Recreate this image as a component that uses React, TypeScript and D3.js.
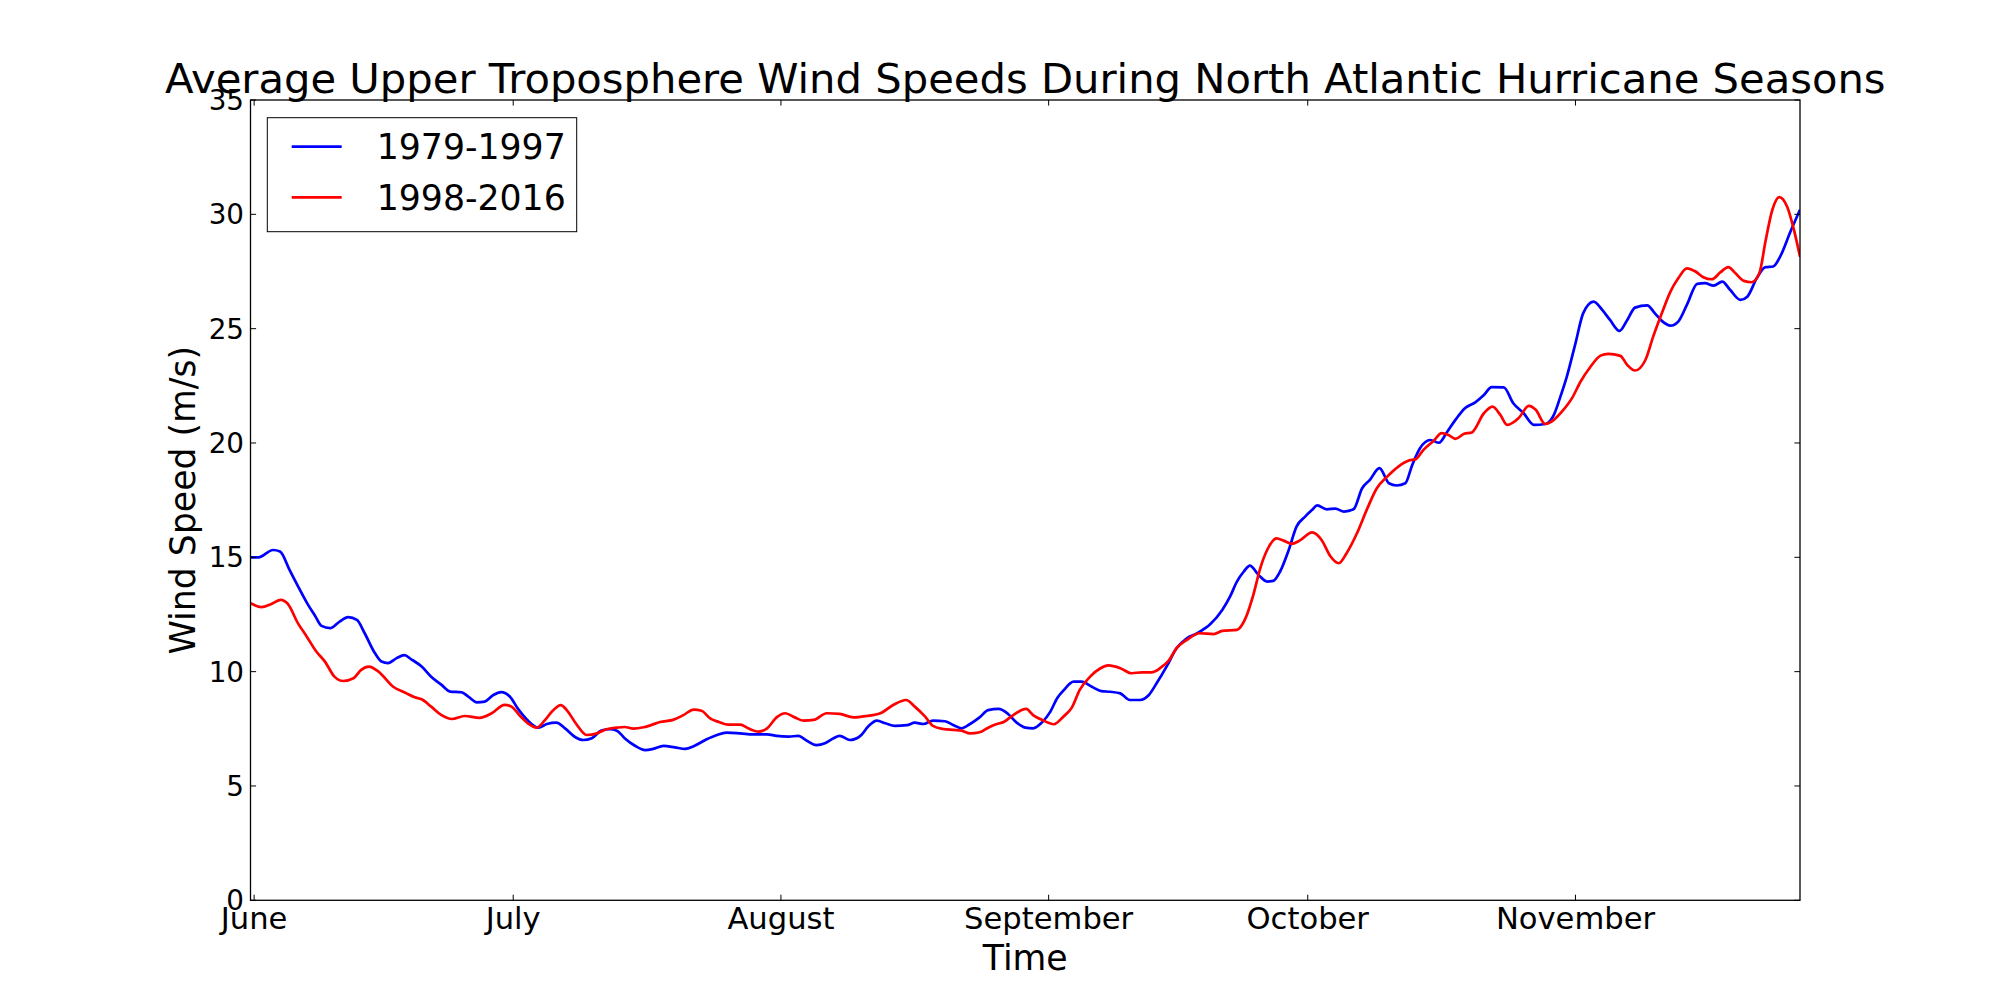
import { useMemo } from 'react';
import * as d3 from 'd3';

// Day offsets from June 1, smoothed wind speed (m/s)
const early: [number, number][] = [
  [-0.4, 15.0], [0.5, 15.0], [2.2, 15.32], [3.0, 15.25], [4.1, 14.45], [5.1, 13.72], [6.25, 12.92], [7.0, 12.48],
  [7.8, 12.0], [8.8, 11.9], [9.9, 12.19], [10.9, 12.38], [11.9, 12.26], [12.8, 11.68], [14.0, 10.8], [14.75, 10.44],
  [15.5, 10.37], [16.5, 10.59], [17.4, 10.72], [18.2, 10.54], [19.4, 10.22], [20.5, 9.78], [21.7, 9.42], [22.7, 9.13],
  [24.0, 9.1], [24.8, 8.91], [25.8, 8.66], [26.7, 8.69], [27.7, 8.98], [28.6, 9.1], [29.6, 8.91], [30.6, 8.35],
  [31.6, 7.9], [32.9, 7.55], [33.9, 7.71], [35.0, 7.77], [36.0, 7.52], [37.2, 7.13], [38.1, 7.01], [39.1, 7.09],
  [40.2, 7.42], [41.2, 7.48], [42.0, 7.42], [42.9, 7.09], [44.1, 6.76], [45.3, 6.57], [46.2, 6.62], [47.4, 6.75],
  [48.7, 6.69], [49.9, 6.62], [51.0, 6.76], [52.4, 7.04], [53.6, 7.23], [54.7, 7.33], [56.3, 7.3], [57.8, 7.26],
  [59.4, 7.26], [60.5, 7.19], [61.9, 7.16], [63.0, 7.19], [64.0, 6.98], [65.1, 6.79], [66.1, 6.87], [67.1, 7.09],
  [67.8, 7.19], [69.0, 7.01], [70.2, 7.19], [71.1, 7.6], [72.1, 7.86], [73.1, 7.74], [74.2, 7.63], [75.6, 7.66],
  [76.5, 7.77], [77.5, 7.71], [78.6, 7.86], [80.0, 7.83], [81.0, 7.66], [81.9, 7.52], [82.9, 7.71], [84.0, 8.0],
  [85.0, 8.32], [86.2, 8.37], [87.3, 8.15], [88.3, 7.77], [89.3, 7.55], [90.2, 7.52], [91.2, 7.77], [92.2, 8.25],
  [93.0, 8.85], [93.7, 9.17], [94.9, 9.56], [95.8, 9.56], [97.0, 9.34], [98.1, 9.15], [99.1, 9.12], [100.3, 9.05],
  [101.4, 8.76], [102.6, 8.76], [103.6, 8.98], [104.5, 9.49], [105.7, 10.25], [106.8, 11.02], [108.0, 11.46], [109.2, 11.68],
  [110.7, 12.07], [112.1, 12.7], [113.0, 13.28], [113.8, 13.94], [114.6, 14.38], [115.3, 14.64], [116.3, 14.23], [117.3, 13.94],
  [118.0, 13.97], [118.8, 14.38], [119.8, 15.32], [120.7, 16.34], [121.7, 16.78], [122.5, 17.07], [123.1, 17.27], [124.2, 17.1],
  [125.2, 17.13], [126.2, 17.0], [127.3, 17.1], [128.3, 18.02], [129.2, 18.39], [130.3, 18.9], [131.4, 18.24], [132.3, 18.14],
  [133.3, 18.24], [134.1, 19.04], [135.0, 19.77], [136.2, 20.13], [137.2, 20.01], [138.1, 20.46], [139.1, 21.01], [140.2, 21.52],
  [141.4, 21.78], [142.4, 22.1], [143.3, 22.44], [144.7, 22.43], [145.8, 21.74], [147.0, 21.3], [148.2, 20.79], [149.5, 20.83],
  [150.5, 21.23], [151.2, 21.96], [152.0, 22.9], [153.0, 24.36], [153.9, 25.68], [155.1, 26.18], [156.1, 25.82], [157.0, 25.38],
  [158.1, 24.9], [159.0, 25.38], [159.9, 25.92], [161.3, 26.02], [162.2, 25.67], [163.0, 25.34], [164.0, 25.13], [164.9, 25.31],
  [165.9, 26.04], [167.1, 26.96], [168.0, 26.99], [169.0, 26.88], [170.0, 27.06], [170.9, 26.7], [172.1, 26.26], [172.9, 26.4],
  [174.0, 27.21], [175.0, 27.69], [175.9, 27.72], [176.7, 28.15], [177.9, 29.25], [179.0, 30.2],
];

const late: [number, number][] = [
  [-0.4, 12.99], [0.85, 12.82], [2.0, 12.96], [3.1, 13.14], [3.9, 12.96], [5.1, 12.1], [6.1, 11.53], [7.2, 10.88],
  [8.2, 10.44], [9.3, 9.78], [10.3, 9.59], [11.5, 9.71], [12.4, 10.08], [13.3, 10.22], [14.4, 10.0], [16.1, 9.34],
  [17.5, 9.08], [18.6, 8.88], [19.4, 8.79], [20.5, 8.47], [21.7, 8.1], [22.9, 7.93], [24.4, 8.06], [26.1, 7.98],
  [27.5, 8.18], [29.0, 8.55], [29.8, 8.47], [30.8, 8.06], [31.7, 7.74], [32.7, 7.55], [33.7, 7.89], [34.6, 8.3],
  [35.5, 8.54], [36.2, 8.32], [37.3, 7.71], [38.5, 7.23], [39.7, 7.3], [40.8, 7.48], [42.0, 7.55], [42.9, 7.58],
  [43.9, 7.51], [45.1, 7.57], [45.8, 7.64], [47.0, 7.8], [48.5, 7.89], [49.7, 8.1], [50.9, 8.34], [51.8, 8.29],
  [52.8, 7.96], [53.8, 7.8], [54.9, 7.68], [56.3, 7.68], [57.2, 7.52], [58.4, 7.38], [59.4, 7.52], [60.5, 8.0],
  [61.5, 8.18], [62.6, 8.0], [63.6, 7.86], [64.8, 7.89], [66.3, 8.18], [67.8, 8.15], [69.4, 8.0], [70.9, 8.06],
  [72.5, 8.18], [74.0, 8.54], [75.5, 8.76], [76.5, 8.47], [77.7, 8.03], [78.6, 7.63], [79.8, 7.49], [81.0, 7.45],
  [81.9, 7.42], [82.9, 7.3], [84.0, 7.35], [85.0, 7.55], [86.0, 7.71], [86.8, 7.8], [87.9, 8.1], [89.4, 8.37],
  [90.2, 8.1], [91.4, 7.86], [92.6, 7.7], [93.7, 8.03], [94.7, 8.44], [95.6, 9.2], [96.8, 9.78], [98.0, 10.15],
  [98.9, 10.27], [100.3, 10.15], [101.6, 9.93], [102.8, 9.97], [103.9, 9.97], [104.9, 10.15], [105.9, 10.48], [106.8, 11.02],
  [108.0, 11.39], [109.5, 11.68], [111.1, 11.64], [112.1, 11.78], [113.8, 11.83], [114.8, 12.34], [115.7, 13.36], [116.5, 14.52],
  [117.3, 15.32], [118.4, 15.83], [119.2, 15.73], [120.2, 15.59], [121.1, 15.74], [122.5, 16.09], [123.6, 15.76], [124.6, 15.06],
  [125.6, 14.74], [126.5, 15.18], [127.7, 16.05], [128.9, 17.14], [130.0, 18.02], [131.2, 18.53], [132.5, 18.97], [133.7, 19.23],
  [134.5, 19.29], [135.4, 19.7], [136.6, 20.1], [137.5, 20.43], [138.3, 20.35], [139.1, 20.18], [140.1, 20.4], [141.0, 20.46],
  [142.4, 21.3], [143.4, 21.59], [144.3, 21.23], [145.1, 20.79], [146.4, 21.08], [147.6, 21.62], [148.4, 21.45], [149.5, 20.83],
  [150.5, 21.01], [151.5, 21.4], [152.6, 21.96], [153.6, 22.69], [154.7, 23.31], [155.9, 23.82], [156.8, 23.9], [158.2, 23.81],
  [159.0, 23.41], [159.9, 23.17], [161.1, 23.63], [162.0, 24.65], [163.0, 25.67], [164.0, 26.62], [164.9, 27.2], [165.9, 27.64],
  [166.9, 27.5], [167.8, 27.25], [168.8, 27.16], [169.8, 27.47], [170.7, 27.69], [171.5, 27.43], [172.5, 27.09], [173.4, 27.03],
  [174.3, 27.43], [175.0, 28.81], [175.8, 30.2], [176.6, 30.75], [177.5, 30.34], [178.3, 29.32], [179.0, 28.15],
];

const monthNames = ['June', 'July', 'August', 'September', 'October', 'November'];
const monthDays = [0, 30, 61, 92, 122, 153];
const yTicks = [0, 5, 10, 15, 20, 25, 30, 35];

const series = [
  { label: '1979-1997', color: '#0000ff', data: early },
  { label: '1998-2016', color: '#ff0000', data: late },
];

const W = 2000;
const H = 1000;
const margin = { left: 250.5, right: 1800, top: 100, bottom: 900.3 };
const FONT = '"DejaVu Sans", sans-serif';

export default function App() {
  const x = useMemo(() => d3.scaleLinear().domain([-0.42, 179.0]).range([margin.left, margin.right]), []);
  const y = useMemo(() => d3.scaleLinear().domain([0, 35]).range([margin.bottom, margin.top]), []);

  const line = d3.line<[number, number]>()
    .x(d => x(d[0]))
    .y(d => y(d[1]))
    .curve(d3.curveMonotoneX);

  const tickLen = 5.6;

  return (
    <div style={{ position: 'fixed', left: 0, top: 0 }}>
      <svg width={W} height={H} style={{ display: 'block', background: '#fff' }} fontFamily={FONT}>
        <defs>
          <clipPath id="plot-clip">
            <rect x={margin.left} y={margin.top} width={margin.right - margin.left} height={margin.bottom - margin.top} />
          </clipPath>
        </defs>

        {/* title */}
        <text x={(margin.left + margin.right) / 2} y={93} textAnchor="middle" fontSize={41.7} fill="#000">
          Average Upper Troposphere Wind Speeds During North Atlantic Hurricane Seasons
        </text>

        {/* data lines */}
        <g clipPath="url(#plot-clip)">
          {series.map(s => (
            <path key={s.label} d={line(s.data) || ''} fill="none" stroke={s.color} strokeWidth={2.7} strokeLinejoin="round" />
          ))}
        </g>

        {/* frame */}
        <rect x={margin.left} y={margin.top} width={margin.right - margin.left} height={margin.bottom - margin.top}
          fill="none" stroke="#000" strokeWidth={1.3} />

        {/* x ticks */}
        {monthDays.map((d, i) => (
          <g key={monthNames[i]}>
            <line x1={x(d)} x2={x(d)} y1={margin.bottom} y2={margin.bottom - tickLen} stroke="#000" strokeWidth={1} />
            <line x1={x(d)} x2={x(d)} y1={margin.top} y2={margin.top + tickLen} stroke="#000" strokeWidth={1} />
            <text x={x(d)} y={929.3} textAnchor="middle" fontSize={30.6} fill="#000">{monthNames[i]}</text>
          </g>
        ))}

        {/* y ticks */}
        {yTicks.map(t => (
          <g key={t}>
            <line x1={margin.left} x2={margin.left + tickLen} y1={y(t)} y2={y(t)} stroke="#000" strokeWidth={1} />
            <line x1={margin.right} x2={margin.right - tickLen} y1={y(t)} y2={y(t)} stroke="#000" strokeWidth={1} />
            <text x={244} y={y(t)} dy="0.36em" textAnchor="end" fontSize={27.8} fill="#000">{t}</text>
          </g>
        ))}

        {/* axis labels */}
        <text x={(margin.left + margin.right) / 2} y={970} textAnchor="middle" fontSize={34.7} fill="#000">Time</text>
        <text transform={`translate(195,${(margin.top + margin.bottom) / 2}) rotate(-90)`} textAnchor="middle" fontSize={34.7} fill="#000">
          Wind Speed (m/s)
        </text>

        {/* legend */}
        <g>
          <rect x={267.3} y={117.7} width={309.4} height={114} fill="#fff" stroke="#000" strokeWidth={1} />
          {series.map((s, i) => {
            const ly = 146.7 + i * 50.6;
            return (
              <g key={s.label}>
                <line x1={291.7} x2={341.7} y1={ly} y2={ly} stroke={s.color} strokeWidth={2.7} />
                <text x={376.7} y={ly} dy="0.36em" fontSize={34.7} fill="#000">{s.label}</text>
              </g>
            );
          })}
        </g>
      </svg>
    </div>
  );
}
